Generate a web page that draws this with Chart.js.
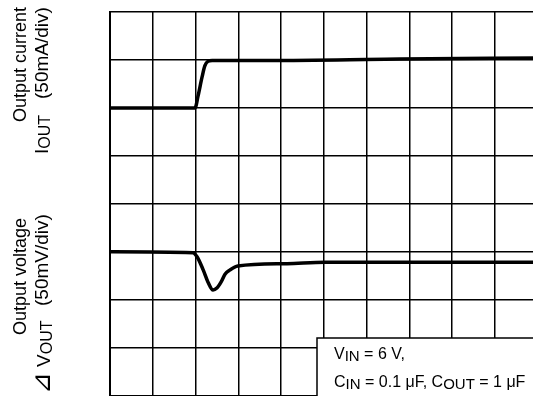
<!DOCTYPE html>
<html>
<head>
<meta charset="utf-8">
<script src="https://cdn.jsdelivr.net/npm/chart.js@4"></script>
<style>
  html, body { margin: 0; padding: 0; background: #fff; overflow: hidden; }
  #wrap { position: relative; width: 545px; height: 400px; }
</style>
</head>
<body>
<div id="wrap"><canvas id="c" width="545" height="400"></canvas></div>
<script>
// time axis in divisions (10 div across), values in divisions (8 div high)
const currentX = [0, 1.99, 2.06, 2.15, 2.22, 2.29, 2.39, 3.74, 6.78, 10];
const currentY = [6, 6, 6.25, 6.63, 6.88, 6.97, 6.99, 6.99, 7.02, 7.04];

const voltageX = [0, 1.94, 2.04, 2.18, 2.29, 2.41, 2.50, 2.60, 2.69, 2.81, 2.99, 4.14, 5.03, 10];
const voltageY = [3, 2.98, 2.89, 2.62, 2.37, 2.20, 2.24, 2.37, 2.53, 2.62, 2.70, 2.75, 2.78, 2.78];

const xDivs = 10;
const yDivs = 8;

const FONT = '"Liberation Sans", Arial, sans-serif';
const SYM = '"DejaVu Sans", sans-serif';

const toPts = (xs, ys) => xs.map((x, i) => ({ x: x, y: ys[i] }));

// draw a run of text segments, optionally rotated (reads bottom-to-top)
function drawRun(ctx, segs, x, y, rotate) {
    ctx.save();
    ctx.translate(x, y);
    if (rotate) ctx.rotate(-Math.PI / 2);
    ctx.textAlign = 'left';
    ctx.textBaseline = 'alphabetic';
    ctx.fillStyle = '#000';
    let pos = 0;
    segs.forEach(s => {
        ctx.font = `${s.size}px ${s.font || FONT}`;
        ctx.fillText(s.t, pos, s.dy || 0);
        pos += ctx.measureText(s.t).width;
    });
    ctx.restore();
}

const labelsPlugin = {
    id: 'labels',
    afterDraw(chart) {
        const ctx = chart.ctx;

        // y-axis captions
        drawRun(ctx, [{ t: 'Output current', size: 18 }], 26, 122, true);
        drawRun(ctx, [{ t: '(50mA/div)', size: 19 }], 48, 99, true);
        drawRun(ctx, [{ t: 'I', size: 19 }, { t: 'OUT', size: 16, dy: 2 }], 48, 154, true);

        drawRun(ctx, [{ t: 'Output voltage', size: 18 }], 26, 335, true);
        drawRun(ctx, [{ t: '(50mV/div)', size: 19 }], 48, 306, true);
        drawRun(ctx, [
            { t: '\u22BF', size: 26, font: SYM }, { t: ' V', size: 19 }, { t: 'OUT', size: 16, dy: 2 }
        ], 50, 394, true);

        // conditions box
        ctx.save();
        ctx.fillStyle = '#fff';
        ctx.strokeStyle = '#000';
        ctx.lineWidth = 1.5;
        ctx.fillRect(317, 338, 240, 70);
        ctx.strokeRect(317, 338, 240, 70);
        ctx.restore();

        drawRun(ctx, [
            { t: 'V', size: 16 }, { t: 'IN', size: 15, dy: 2 }, { t: ' = 6 V,', size: 16 }
        ], 334, 359, false);
        drawRun(ctx, [
            { t: 'C', size: 16 }, { t: 'IN', size: 15, dy: 2 }, { t: ' = 0.1 \u03BCF, C', size: 16 },
            { t: 'OUT', size: 15, dy: 2 }, { t: ' = 1 \u03BCF', size: 16 }
        ], 334, 387, false);
    }
};

new Chart(document.getElementById('c'), {
    type: 'line',
    data: {
        datasets: [{
            data: toPts(currentX, currentY),
            borderColor: '#000',
            borderWidth: 3.5,
            pointRadius: 0,
            cubicInterpolationMode: 'monotone',
            fill: false
        }, {
            data: toPts(voltageX, voltageY),
            borderColor: '#000',
            borderWidth: 3.5,
            pointRadius: 0,
            cubicInterpolationMode: 'monotone',
            fill: false
        }]
    },
    options: {
        responsive: false,
        animation: false,
        layout: { padding: { left: 110, top: 12, right: 7.5, bottom: 4.5 } },
        plugins: { legend: { display: false }, tooltip: { enabled: false } },
        scales: {
            x: {
                type: 'linear',
                min: 0,
                max: xDivs,
                afterFit: s => { s.height = 0; },
                ticks: { display: false, stepSize: 1 },
                grid: { color: '#000', lineWidth: 1.5, drawTicks: false },
                border: { display: true, color: '#000', width: 2 }
            },
            y: {
                min: 0,
                max: yDivs,
                afterFit: s => { s.width = 0; },
                ticks: { display: false, stepSize: 1 },
                grid: { color: '#000', lineWidth: 1.5, drawTicks: false },
                border: { display: true, color: '#000', width: 2 }
            }
        }
    },
    plugins: [labelsPlugin]
});
</script>
</body>
</html>
